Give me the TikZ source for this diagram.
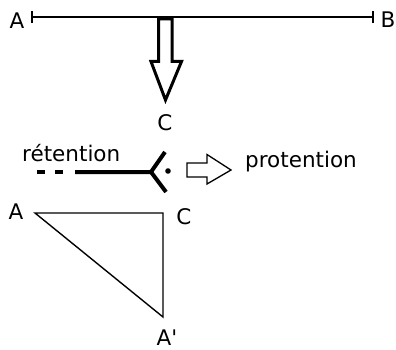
\documentclass[tikz,border=0pt]{standalone}
\usepackage{fontspec}
\newfontfamily\lblfont{DejaVu Sans}
\begin{document}
\begin{tikzpicture}[x=1pt,y=-1pt,
  lbl/.style={font=\lblfont\fontsize{21.5}{26}\selectfont, inner sep=0pt},
  thinline/.style={line width=1.4pt, black},
  bigarrow/.style={line width=3pt, black, line join=miter},
  smallarrow/.style={line width=1.3pt, black, line join=miter},
  thickline/.style={line width=4pt, black}]
\useasboundingbox (0,0) rectangle (396,350);
% top segment
\coordinate (pA) at (32,17);
\coordinate (pB) at (373,17);
\draw[thinline] (pA) -- (pB);
\draw[thinline] ([yshift=-6]pA) -- ([yshift=6]pA);
\draw[thinline] ([yshift=-6]pB) -- ([yshift=6]pB);
\node[lbl, anchor=base] (labA) at (17,29) {A};
\node[lbl, anchor=base] (labB) at (388,28) {B};
% big hollow arrow
\draw[bigarrow] (158.5,19) -- (158.5,61.5) -- (151,61.5) -- (165.5,100)
  -- (181.5,61.5) -- (172,61.5) -- (172,19) -- cycle;
\node[lbl, anchor=base] (labC) at (165,131) {C};
% retention line
\draw[thickline, dash pattern=on 8pt off 10pt] (37,172) -- (63,172);
\coordinate (r0) at (75,172);
\coordinate (rj) at (151,172);
\coordinate (ru) at (165,152);
\coordinate (rd) at (166,192);
\draw[thickline, line join=round] (r0) -- (rj) -- (ru);
\draw[thickline] (rj) -- (rd);
\fill (168,171) circle (2.8);
\node[lbl, anchor=base west] (ret) at (22,161) {rétention};
% small hollow arrow
\draw[smallarrow] (187,163) -- (207,163) -- (207,154.5) -- (231,170)
  -- (207,184) -- (207,177) -- (187,177) -- cycle;
\node[lbl, anchor=base west] (pro) at (245,167) {protention};
% triangle
\coordinate (tA) at (35,213);
\coordinate (tC) at (163,213);
\coordinate (tAp) at (163,317);
\draw[thinline] (tA) -- (tC) -- (tAp) -- cycle;
\node[lbl, anchor=base] (labA2) at (16,219) {A};
\node[lbl, anchor=base] (labC2) at (184,224) {C};
\node[lbl, anchor=base] (labAp) at (167,345) {A'};
\end{tikzpicture}
\end{document}
